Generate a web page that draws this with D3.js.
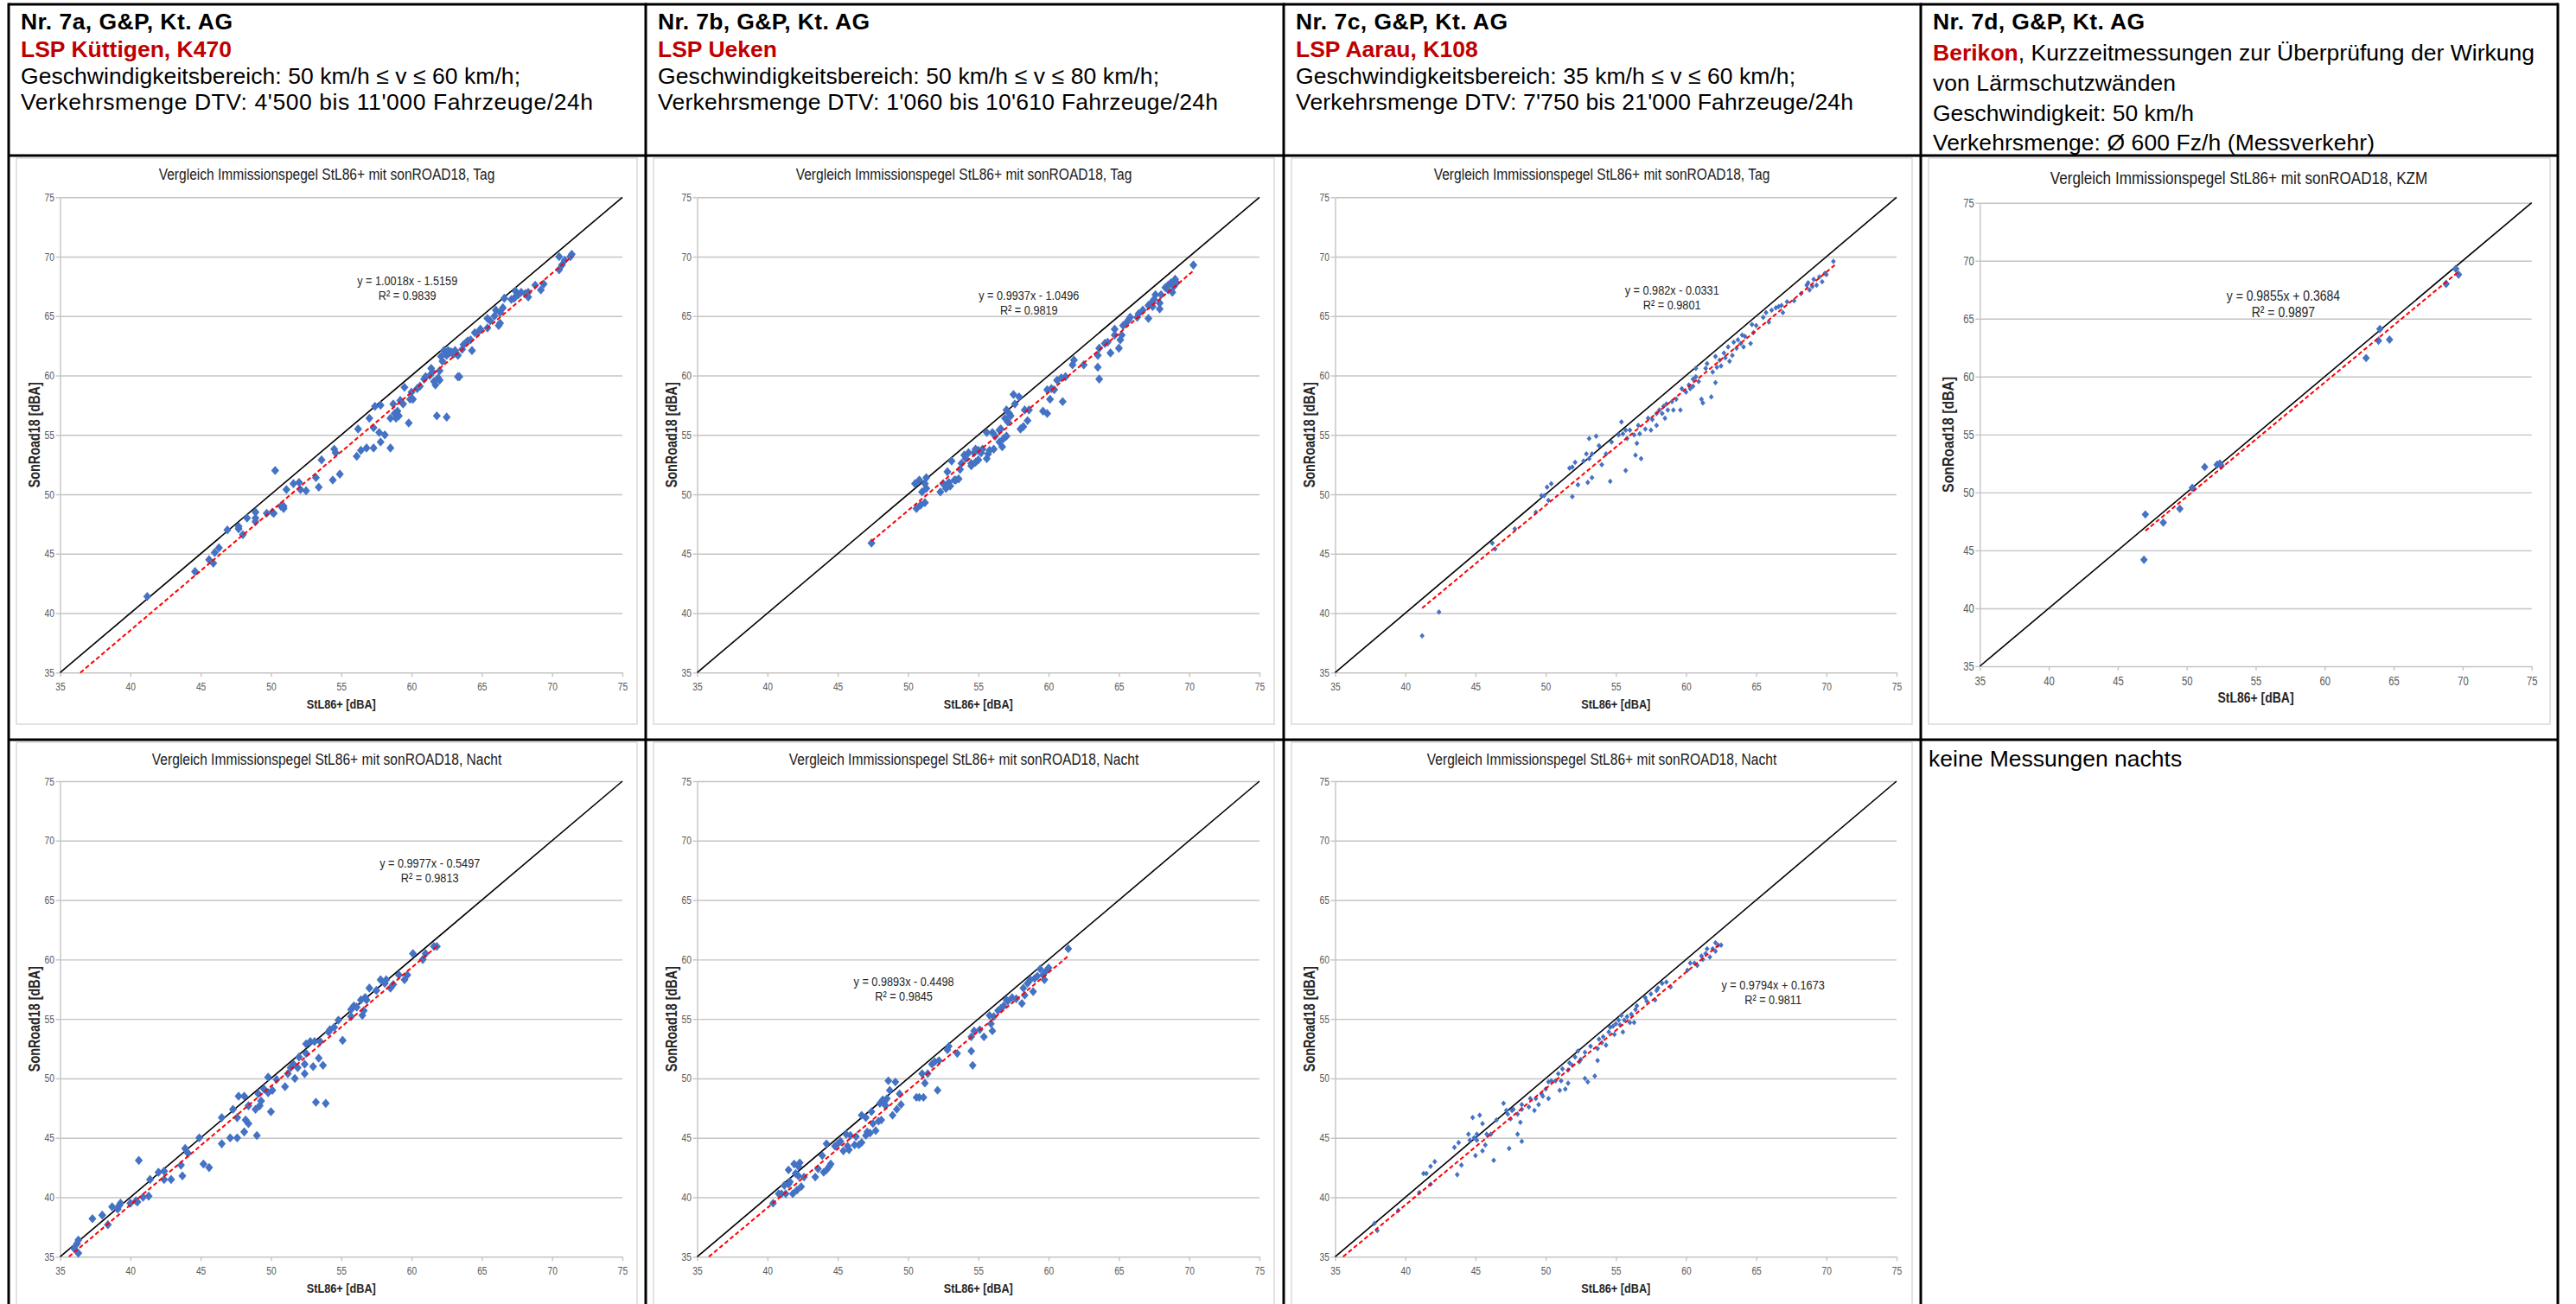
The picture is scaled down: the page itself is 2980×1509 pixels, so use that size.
<!DOCTYPE html>
<html>
<head>
<meta charset="utf-8">
<script src="https://cdn.jsdelivr.net/npm/d3@7"></script>
<style>
  body { margin: 0; background: #fff; }
</style>
</head>
<body>
<svg id="page"></svg>
<script>
'use strict'

// ---------- data ----------
var headNo = ['Nr. 7a, G&P, Kt. AG', 'Nr. 7b, G&P, Kt. AG', 'Nr. 7c, G&P, Kt. AG', 'Nr. 7d, G&P, Kt. AG'];
var headSite = ['LSP Küttigen, K470', 'LSP Ueken', 'LSP Aarau, K108', 'Berikon'];
var headSiteRest = ['', '', '', ', Kurzzeitmessungen zur Überprüfung der Wirkung'];
var headLines = [
	['Geschwindigkeitsbereich: 50 km/h ≤ v ≤ 60 km/h;', 'Verkehrsmenge DTV: 4\'500 bis 11\'000 Fahrzeuge/24h'],
	['Geschwindigkeitsbereich: 50 km/h ≤ v ≤ 80 km/h;', 'Verkehrsmenge DTV: 1\'060 bis 10\'610 Fahrzeuge/24h'],
	['Geschwindigkeitsbereich: 35 km/h ≤ v ≤ 60 km/h;', 'Verkehrsmenge DTV: 7\'750 bis 21\'000 Fahrzeuge/24h'],
	['von Lärmschutzwänden', 'Geschwindigkeit: 50 km/h', 'Verkehrsmenge: Ø 600 Fz/h (Messverkehr)']
];
var noNightText = 'keine Messungen nachts';

var chartTitle = 'Vergleich Immissionspegel StL86+ mit sonROAD18, ';
var periods = ['Tag', 'Tag', 'Tag', 'KZM', 'Nacht', 'Nacht', 'Nacht'];
var xTitle = 'StL86+ [dBA]';
var yTitle = 'SonRoad18 [dBA]';
var ticks = [35, 40, 45, 50, 55, 60, 65, 70, 75];

var slopes = [1.0018, 0.9937, 0.982, 0.9855, 0.9977, 0.9893, 0.9794];
var intercepts = [-1.5159, -1.0496, -0.0331, 0.3684, -0.5497, -0.4498, 0.1673];
var rSquared = [0.9839, 0.9819, 0.9801, 0.9897, 0.9813, 0.9845, 0.9811];
var trendFrom = [36.44, 47.4, 41.2, 47.0, 35.63, 35.83, 35.57];
var trendTo = [71.4, 70.3, 70.6, 69.7, 61.9, 61.4, 62.5];

var tag7a = [[41.2,41.4],[44.6,43.5],[45.6,44.5],[45.9,44.2],[46.0,45.1],[46.3,45.5],[46.9,47.0],[47.7,47.3],[47.7,47.1],[48.0,46.6],[48.3,48.0],[48.9,48.5],[48.9,48.0],[48.9,47.7],[49.7,48.4],[50.1,48.5],[50.3,52.0],[50.2,48.4],[50.7,49.0],[50.9,48.8],[50.9,49.0],[51.1,50.4],[51.6,50.9],[52.0,51.0],[52.1,50.4],[52.5,50.3],[53.2,51.4],[53.4,50.6],[53.6,52.9],[54.4,51.2],[54.5,53.8],[54.6,53.5],[54.9,51.7],[56.1,53.2],[56.2,55.5],[56.4,53.7],[56.8,53.9],[57.0,56.4],[57.3,53.9],[57.3,55.6],[57.4,57.4],[57.7,55.2],[57.8,54.4],[57.8,57.5],[58.1,55.0],[58.5,53.9],[58.5,56.4],[58.7,57.6],[58.8,56.8],[58.9,56.4],[59.0,57.0],[59.1,56.6],[59.2,57.9],[59.4,57.6],[59.5,59.0],[59.8,56.0],[59.9,58.0],[60.0,58.6],[60.1,58.0],[60.4,58.9],[60.6,59.1],[60.9,59.7],[61.0,59.9],[61.3,60.0],[61.4,60.6],[61.5,60.3],[61.6,59.5],[61.7,59.2],[61.8,56.6],[61.9,59.8],[62.0,59.6],[62.0,60.4],[62.1,61.6],[62.2,61.2],[62.3,62.1],[62.5,56.5],[62.5,61.7],[62.7,61.9],[62.9,61.9],[63.1,62.1],[63.3,61.7],[63.3,59.9],[63.4,59.9],[63.6,62.2],[63.7,62.6],[63.9,62.8],[64.0,62.9],[64.2,63.0],[64.3,62.1],[64.5,63.6],[64.7,63.6],[64.9,63.9],[65.4,64.0],[65.4,64.8],[65.6,64.6],[65.9,65.0],[66.0,65.5],[66.2,64.2],[66.3,64.4],[66.3,65.3],[66.5,65.7],[66.6,66.5],[67.1,66.4],[67.3,66.5],[67.4,67.1],[67.6,66.8],[67.8,67.0],[68.1,66.9],[68.3,67.0],[68.3,66.6],[68.8,67.6],[69.2,67.2],[69.4,67.7],[70.5,70.0],[70.5,68.9],[70.7,69.3],[70.9,69.7],[71.3,70.0],[71.4,70.2],[62.8,62.0],[63.0,61.8],[62.6,62.1]];

var tag7b = [[47.4,45.9],[50.5,50.9],[50.6,48.8],[50.8,51.2],[50.9,49.1],[51.0,50.2],[51.2,50.9],[51.2,49.3],[51.3,51.4],[51.3,50.5],[52.3,50.2],[52.5,50.9],[52.7,50.5],[52.8,51.9],[52.9,51.0],[53.0,50.7],[53.1,52.8],[53.3,51.2],[53.4,51.2],[53.6,51.3],[53.7,52.1],[53.8,52.6],[54.0,53.3],[54.1,53.0],[54.3,53.5],[54.5,52.4],[54.5,52.6],[54.7,53.5],[54.8,52.7],[54.8,53.8],[55.0,53.7],[55.0,52.9],[55.2,53.5],[55.3,53.8],[55.6,53.0],[55.6,55.2],[55.7,53.4],[55.8,53.7],[56.0,55.2],[56.1,53.8],[56.2,54.9],[56.5,55.4],[56.5,54.4],[56.6,55.5],[56.7,54.0],[56.8,54.7],[56.9,56.4],[57.0,54.9],[57.0,57.1],[57.1,56.1],[57.2,56.8],[57.3,56.6],[57.5,58.4],[57.6,57.6],[57.9,58.2],[58.0,55.5],[58.2,55.7],[58.3,57.1],[58.5,56.2],[58.6,57.1],[59.6,57.0],[59.9,56.8],[59.9,58.8],[60.1,58.0],[60.2,58.9],[60.4,58.8],[60.6,59.6],[60.9,59.8],[61.0,57.8],[61.2,59.9],[61.7,60.9],[61.8,61.3],[62.5,60.9],[63.5,61.7],[63.6,62.3],[63.5,60.7],[63.6,59.7],[64.0,62.7],[64.2,62.8],[64.4,61.9],[64.7,63.9],[64.7,63.4],[65.0,62.3],[65.1,63.0],[65.2,63.4],[65.3,64.2],[65.5,64.4],[65.7,64.7],[65.8,64.9],[66.3,64.9],[66.4,65.2],[66.7,65.5],[67.1,64.8],[67.1,65.9],[67.3,66.1],[67.4,65.8],[67.5,66.4],[67.6,66.8],[67.9,66.1],[67.9,65.6],[68.0,66.8],[68.3,67.4],[68.5,67.6],[68.5,67.2],[68.7,67.8],[68.8,67.0],[68.9,67.5],[69.0,68.1],[69.1,67.8],[70.3,69.3]];

var tag7c = [[41.2,38.1],[42.4,40.1],[46.2,45.9],[46.4,45.4],[47.8,47.1],[49.3,48.5],[49.7,49.9],[49.9,49.9],[50.1,50.6],[50.2,49.5],[50.4,50.9],[51.7,52.2],[51.9,52.3],[51.9,49.8],[52.1,52.7],[52.3,50.8],[52.7,52.8],[52.9,53.4],[53.0,51.0],[53.1,54.7],[53.1,53.0],[53.3,53.4],[53.3,51.4],[53.6,54.9],[53.8,54.1],[54.0,52.5],[54.3,53.4],[54.6,51.1],[54.7,54.4],[55.2,55.0],[55.4,56.1],[55.5,55.1],[55.7,55.4],[55.7,52.0],[55.8,54.7],[56.0,55.4],[56.3,55.0],[56.4,53.3],[56.5,54.3],[56.6,55.8],[56.7,55.1],[56.8,53.0],[57.1,55.5],[57.3,56.4],[57.5,55.4],[57.6,56.3],[57.9,55.8],[57.9,56.8],[58.1,57.1],[58.3,56.8],[58.4,57.4],[58.5,56.4],[58.6,57.6],[58.7,57.1],[59.0,57.8],[59.1,57.1],[59.3,58.0],[59.6,57.1],[59.7,58.9],[60.0,58.6],[60.2,59.2],[60.3,58.9],[60.5,59.7],[60.5,59.1],[60.7,59.9],[60.7,60.6],[60.9,59.5],[61.1,58.0],[61.2,57.7],[61.4,60.6],[61.5,61.0],[61.8,58.2],[61.9,60.3],[62.1,59.4],[62.1,61.6],[62.2,60.7],[62.4,61.3],[62.5,60.8],[62.7,61.9],[62.8,61.5],[63.0,62.4],[63.1,61.2],[63.3,61.7],[63.4,62.8],[63.6,62.3],[63.7,63.0],[63.9,62.7],[64.0,63.4],[64.1,62.4],[64.2,63.3],[64.6,62.7],[64.7,64.3],[64.8,63.6],[65.0,64.2],[65.5,64.9],[65.7,65.3],[65.9,64.5],[66.1,65.5],[66.4,65.7],[66.6,65.8],[66.8,65.9],[66.9,65.3],[67.2,66.2],[67.7,66.3],[68.2,66.9],[68.6,67.6],[68.7,67.8],[68.8,67.2],[69.0,67.5],[69.1,68.1],[69.3,67.6],[69.5,68.3],[69.7,67.9],[69.9,68.6],[70.0,68.5],[70.5,69.6]];

var kzm7d = [[46.9,44.2],[47.0,48.1],[48.3,47.4],[49.5,48.6],[50.4,50.4],[51.3,52.2],[52.2,52.4],[52.4,52.5],[52.5,52.3],[63.0,61.6],[63.9,63.1],[64.0,64.1],[64.7,63.2],[68.8,68.0],[69.5,69.3],[69.7,68.8]];

var nacht7a = [[36.0,35.7],[36.2,36.1],[36.3,36.4],[36.3,35.3],[37.3,38.2],[38.0,38.5],[38.4,37.7],[38.7,39.2],[39.1,39.0],[39.2,39.3],[39.3,39.5],[40.0,39.5],[40.4,39.7],[40.5,39.6],[40.6,43.1],[40.9,40.0],[41.3,40.1],[41.4,41.5],[42.0,42.1],[42.4,41.5],[42.4,42.2],[42.9,41.5],[43.6,42.7],[43.7,41.8],[43.9,44.1],[44.1,43.7],[44.9,45.0],[45.2,42.8],[45.6,42.5],[46.5,44.5],[46.5,46.7],[47.1,45.0],[47.3,47.4],[47.6,46.7],[47.6,45.0],[47.7,48.5],[48.1,48.5],[48.1,45.5],[48.2,46.5],[48.4,46.2],[48.4,47.7],[48.9,47.4],[49.0,45.2],[49.1,48.7],[49.2,47.7],[49.3,48.1],[49.5,49.1],[49.8,48.8],[49.8,50.1],[50.0,47.2],[50.1,49.0],[50.4,49.9],[51.0,49.3],[51.2,50.4],[51.4,50.9],[51.6,51.2],[51.7,50.0],[51.9,50.9],[52.0,51.8],[52.4,50.4],[52.4,51.2],[52.5,52.9],[52.5,52.1],[52.8,53.1],[53.0,51.0],[53.1,53.1],[53.2,48.0],[53.4,51.7],[53.5,53.1],[53.7,51.1],[53.9,47.9],[54.1,53.9],[54.2,54.1],[54.5,54.3],[54.8,54.9],[55.1,53.2],[55.7,55.2],[55.7,55.8],[55.9,56.1],[56.1,56.0],[56.4,56.6],[56.5,55.3],[56.6,55.7],[56.7,56.8],[56.8,56.6],[57.0,57.6],[57.5,57.4],[57.8,58.3],[58.1,58.0],[58.2,58.3],[58.5,57.6],[58.7,57.9],[59.1,58.7],[59.5,58.3],[59.7,58.7],[60.1,60.5],[60.8,60.0],[61.0,60.5],[61.6,61.1],[61.8,61.1]];

var nacht7b = [[40.4,39.5],[40.8,40.3],[41.0,40.3],[41.2,41.0],[41.3,40.3],[41.5,41.1],[41.5,42.3],[41.6,41.3],[41.8,40.3],[41.9,42.8],[42.0,42.0],[42.1,40.6],[42.2,41.8],[42.2,42.6],[42.3,42.9],[42.4,40.9],[42.6,41.7],[43.4,41.7],[43.6,42.4],[43.9,43.5],[44.0,42.1],[44.2,44.5],[44.2,42.3],[44.4,42.6],[44.5,42.8],[44.8,44.3],[45.0,44.5],[45.2,44.7],[45.4,43.9],[45.6,45.3],[45.7,44.3],[45.8,44.0],[45.9,45.2],[46.2,44.4],[46.3,45.1],[46.5,44.4],[46.7,44.6],[46.7,46.9],[47.0,45.2],[47.0,46.7],[47.1,45.5],[47.3,45.4],[47.4,47.2],[47.5,46.2],[47.7,45.6],[47.9,46.4],[48.0,47.9],[48.1,46.5],[48.2,48.2],[48.3,48.0],[48.4,47.7],[48.5,48.3],[48.6,49.8],[48.7,49.0],[48.9,46.9],[49.1,49.7],[49.2,47.4],[49.4,48.7],[49.5,47.8],[50.6,48.4],[50.8,48.4],[51.0,50.4],[51.1,48.4],[51.2,49.6],[51.4,50.4],[51.7,51.2],[51.9,51.4],[52.1,49.0],[52.2,51.5],[52.8,52.4],[52.9,52.7],[53.5,52.1],[54.5,53.5],[54.5,52.3],[54.6,51.1],[54.7,54.0],[55.1,54.1],[55.4,53.5],[55.8,55.3],[55.9,54.6],[56.0,54.0],[56.1,55.2],[56.4,55.7],[56.6,55.9],[56.8,56.1],[57.0,56.6],[57.1,56.5],[57.4,56.8],[57.7,56.7],[58.1,56.3],[58.2,57.6],[58.3,57.0],[58.5,58.0],[58.7,58.3],[58.9,57.3],[59.0,58.4],[59.2,58.6],[59.4,59.2],[59.6,58.7],[59.7,58.3],[59.8,59.0],[60.0,59.3],[61.4,60.9]];

var nacht7c = [[37.8,37.8],[38.0,37.2],[39.5,38.9],[41.0,40.4],[41.3,42.0],[41.5,42.0],[41.8,42.6],[41.8,41.1],[42.1,43.0],[43.5,44.2],[43.7,41.9],[43.8,44.6],[44.0,42.7],[44.5,45.3],[44.6,44.8],[44.8,46.7],[44.9,45.0],[45.0,43.5],[45.1,45.3],[45.1,44.8],[45.3,46.9],[45.5,46.2],[45.5,43.9],[45.7,44.4],[45.8,45.3],[46.1,45.3],[46.3,43.1],[46.5,46.5],[47.0,47.9],[47.2,47.3],[47.3,47.0],[47.4,44.1],[47.5,46.6],[47.6,47.3],[47.7,47.4],[48.0,45.3],[48.0,47.0],[48.2,46.3],[48.3,44.7],[48.3,47.8],[48.3,47.4],[48.8,47.6],[48.9,48.3],[49.2,47.3],[49.3,48.3],[49.5,47.8],[49.7,48.7],[49.8,48.5],[50.0,49.1],[50.2,48.3],[50.2,49.7],[50.4,49.8],[50.7,49.8],[50.9,50.4],[51.0,49.0],[51.1,49.8],[51.2,50.8],[51.4,49.1],[51.6,49.6],[51.6,50.7],[51.7,51.3],[51.9,51.1],[52.1,51.8],[52.3,52.3],[52.4,51.4],[52.5,51.6],[52.8,50.0],[52.8,52.2],[53.0,49.7],[53.2,52.7],[53.5,50.2],[53.7,52.5],[53.7,51.5],[53.8,53.3],[54.0,53.0],[54.1,53.5],[54.3,52.8],[54.5,53.9],[54.6,54.3],[54.8,54.4],[54.9,53.7],[55.0,54.6],[55.2,54.9],[55.3,54.5],[55.4,55.3],[55.5,53.9],[55.6,54.9],[55.8,55.2],[56.0,54.7],[56.1,55.4],[56.3,54.7],[56.4,55.8],[56.5,56.1],[57.1,56.8],[57.2,56.5],[57.5,57.1],[57.8,56.6],[57.9,57.4],[58.0,57.6],[58.3,58.0],[58.6,58.1],[58.9,57.7],[60.1,59.1],[60.3,59.7],[60.6,59.7],[60.8,59.5],[61.1,60.3],[61.2,60.0],[61.4,60.5],[61.5,60.9],[61.7,60.2],[61.9,60.9],[62.1,61.4],[62.1,60.7],[62.3,61.2],[62.5,61.2]];

var series = [tag7a, tag7b, tag7c, kzm7d, nacht7a, nacht7b, nacht7c];

// where Excel put the trendline label (data units, centre of first line)
var eqAtX = [59.7, 58.6, 59.0, 57.0, 61.3, 49.7, 66.2];
var eqAtY = [68.0, 66.8, 67.2, 67.0, 68.1, 58.2, 57.9];

// ---------- layout ----------
var WIDTH = 2980, HEIGHT = 1509;
var COLX = [10, 747, 1485, 2222, 2959];
var ROWY = [5, 180, 856];

var svg = d3.select('#page').attr('width', WIDTH).attr('height', HEIGHT);
svg.append('rect').attr('width', WIDTH).attr('height', HEIGHT).style('fill', '#fff');

// narrow font for the Excel charts, fall back to squeezed Liberation Sans
var ctx = document.createElement('canvas').getContext('2d');
function measure(str, font) { ctx.font = font; return ctx.measureText(str).width; }
var probe = 'Vergleich Immissionspegel';
var narrowOk = measure(probe, "20px 'Liberation Sans Narrow', monospace") < 0.9 * measure(probe, "20px 'Liberation Sans'");
var NARROW = narrowOk ? "'Liberation Sans Narrow', 'Arial Narrow', sans-serif" : "'Liberation Sans', Arial, sans-serif";
var NSX = narrowOk ? 1 : 0.82;
var SANS = "'Liberation Sans', Arial, sans-serif";

function label(g, x, y, str, o) {
	var t = 'translate(' + x + ',' + y + ')';
	if (o.rotate) t += ' rotate(' + o.rotate + ')';
	if (o.sx && o.sx !== 1) t += ' scale(' + o.sx + ',1)';
	var el = g.append('text')
		.attr('transform', t)
		.attr('text-anchor', o.anchor || 'start')
		.style('font-family', o.family || SANS)
		.style('font-size', o.size + 'px')
		.style('font-weight', o.weight || 'normal')
		.style('fill', o.fill || '#000')
		.text(str);
	if (o.width) el.attr('textLength', o.width).attr('lengthAdjust', 'spacing');
	return el;
}

// diamond marker, slightly taller than wide
var diamond = {
	draw: function (p, size) {
		var w = Math.sqrt(size) / 2, h = w * 1.15;
		p.moveTo(0, -h); p.lineTo(w, 0); p.lineTo(0, h); p.lineTo(-w, 0); p.closePath();
	}
};

var BLUE = '#4472C4';
var RED = '#C00000';

// ---------- header row ----------
var HEAD_SIZE = 26.5;
var headBase = [34, 65.5, 96.5, 127];
var headBase7d = [34, 70, 105, 140, 174];
var headWidth = [[578, 662], [580, 648], [578, 645], [281, null, 511]];
var headSiteWidth7d = 696;
for (var c = 0; c < 4; c++) {
	var hx = COLX[c] + 14;
	var hg = svg.append('g');
	var base = c === 3 ? headBase7d : headBase;
	label(hg, hx, base[0], headNo[c], { size: HEAD_SIZE, weight: 'bold', width: 245 });
	var site = label(hg, hx, base[1], headSite[c], { size: HEAD_SIZE, weight: 'bold', fill: RED });
	if (headSiteRest[c]) {
		site.text(null);
		site.append('tspan').style('fill', RED).style('font-weight', 'bold').text(headSite[c]);
		site.append('tspan').style('fill', '#000').style('font-weight', 'normal').text(headSiteRest[c]);
		site.attr('textLength', headSiteWidth7d).attr('lengthAdjust', 'spacing');
	}
	headLines[c].forEach(function (line, i) {
		label(hg, hx, base[2 + i], line, { size: HEAD_SIZE, width: headWidth[c][i] });
	});
}

// ---------- charts ----------
var plotL = [59.5, 59.5, 59.5, 68.3];
var plotR = [710, 710, 709, 706.7];
var rowBox = {
	tag: { top: 228.3, bottom: 778.3, fTop: 183, fBottom: 838, title: 208, fs: 1 },
	kzm: { top: 234.7, bottom: 771, fTop: 183, fBottom: 838, title: 212.5, fs: 1.1 },
	nacht: { top: 904, bottom: 1454.3, fTop: 859, fBottom: 1540, title: 885, fs: 1 }
};
var markerSize = [85, 85, 32, 75, 85, 80, 32];
var panelCol = [0, 1, 2, 3, 0, 1, 2];
var panelRow = ['tag', 'tag', 'tag', 'kzm', 'nacht', 'nacht', 'nacht'];

function drawChart(i) {
	var col = panelCol[i];
	var rb = rowBox[panelRow[i]];
	var fs = rb.fs;
	var left = COLX[col] + plotL[col], right = COLX[col] + plotR[col];
	var x = d3.scaleLinear().domain([35, 75]).range([left, right]);
	var y = d3.scaleLinear().domain([35, 75]).range([rb.bottom, rb.top]);
	var g = svg.append('g');

	// chart frame
	g.append('rect')
		.attr('x', COLX[col] + 9)
		.attr('y', rb.fTop)
		.attr('width', 718 + (col === 3 ? 1 : 0))
		.attr('height', rb.fBottom - rb.fTop)
		.style('fill', '#fff')
		.style('stroke', '#d9d9d9')
		.style('stroke-width', 1.5);

	label(g, COLX[col] + 9 + 359, rb.title, chartTitle + periods[i],
		{ size: 19 * fs, family: NARROW, sx: NSX, anchor: 'middle', fill: '#1a1a1a' });

	// gridlines
	g.append('g')
		.attr('transform', 'translate(' + left + ',0)')
		.call(d3.axisLeft(y).tickValues(ticks.slice(1)).tickSize(-(right - left)).tickFormat(''))
		.call(function (a) {
			a.select('.domain').remove();
			a.selectAll('line').style('stroke', '#c4c4c4').style('stroke-width', 1.4);
		});

	// y axis
	g.append('g')
		.attr('transform', 'translate(' + left + ',0)')
		.call(d3.axisLeft(y).tickValues(ticks).tickSize(5).tickSizeOuter(0).tickPadding(3))
		.call(function (a) {
			a.select('.domain').style('stroke', '#c4c4c4').style('stroke-width', 1.4);
			a.selectAll('line').style('stroke', '#c4c4c4').style('stroke-width', 1.4);
			a.selectAll('text')
				.style('font-family', NARROW).style('font-size', (12.5 * fs) + 'px').style('fill', '#595959')
				.attr('transform', 'scale(' + NSX + ',1)');
		});

	// x axis
	g.append('g')
		.attr('transform', 'translate(0,' + rb.bottom + ')')
		.call(d3.axisBottom(x).tickValues(ticks).tickSize(5).tickSizeOuter(0).tickPadding(7))
		.call(function (a) {
			a.select('.domain').style('stroke', '#c4c4c4').style('stroke-width', 1.4);
			a.selectAll('line').style('stroke', '#c4c4c4').style('stroke-width', 1.4);
			a.selectAll('text')
				.style('font-family', NARROW).style('font-size', (12.5 * fs) + 'px').style('fill', '#595959')
				.attr('transform', 'scale(' + NSX + ',1)');
		});

	// axis titles
	label(g, (left + right) / 2, rb.bottom + 41.5, xTitle,
		{ size: 15.5 * fs, weight: 'bold', family: NARROW, sx: NSX, anchor: 'middle', fill: '#262626' });
	label(g, left - (col === 3 ? 30 : 24), (rb.top + rb.bottom) / 2, yTitle,
		{ size: 17.5 * fs, weight: 'bold', family: NARROW, sx: NSX, anchor: 'middle', rotate: -90, fill: '#262626' });

	// 1:1 line
	g.append('line')
		.attr('x1', x(35)).attr('y1', y(35))
		.attr('x2', x(75)).attr('y2', y(75))
		.style('stroke', '#000')
		.style('stroke-width', 1.6);

	// points
	g.selectAll('.pt')
		.data(series[i])
		.enter()
		.append('path')
		.attr('class', 'pt')
		.attr('d', d3.symbol().type(diamond).size(markerSize[i]))
		.attr('transform', function (d) { return 'translate(' + x(d[0]) + ',' + y(d[1]) + ')'; })
		.style('fill', BLUE);

	// linear trendline
	var m = slopes[i], b = intercepts[i];
	g.append('line')
		.attr('x1', x(trendFrom[i])).attr('y1', y(m * trendFrom[i] + b))
		.attr('x2', x(trendTo[i])).attr('y2', y(m * trendTo[i] + b))
		.style('stroke', '#ff0000')
		.style('stroke-width', 2)
		.style('stroke-dasharray', '5,3');

	// trendline equation
	var eq = 'y = ' + m + 'x ' + (b < 0 ? '- ' : '+ ') + Math.abs(b);
	var ex = x(eqAtX[i]), ey = y(eqAtY[i]) + 5.5 * fs;
	label(g, ex, ey, eq, { size: 15.5 * fs, family: NARROW, sx: NSX, anchor: 'middle', fill: '#262626' });
	label(g, ex, ey + 17 * fs, 'R² = ' + rSquared[i], { size: 15.5 * fs, family: NARROW, sx: NSX, anchor: 'middle', fill: '#262626' });
}

for (var k = 0; k < series.length; k++) drawChart(k);

label(svg, COLX[3] + 9, 887, noNightText, { size: HEAD_SIZE });

// ---------- table rules ----------
var rules = svg.append('g').style('stroke', '#000').style('stroke-width', 3);
ROWY.forEach(function (ry) {
	rules.append('line').attr('x1', COLX[0]).attr('x2', COLX[4]).attr('y1', ry).attr('y2', ry);
});
COLX.forEach(function (cx) {
	rules.append('line').attr('x1', cx).attr('x2', cx).attr('y1', ROWY[0] - 1.5).attr('y2', HEIGHT);
});
</script>
</body>
</html>
